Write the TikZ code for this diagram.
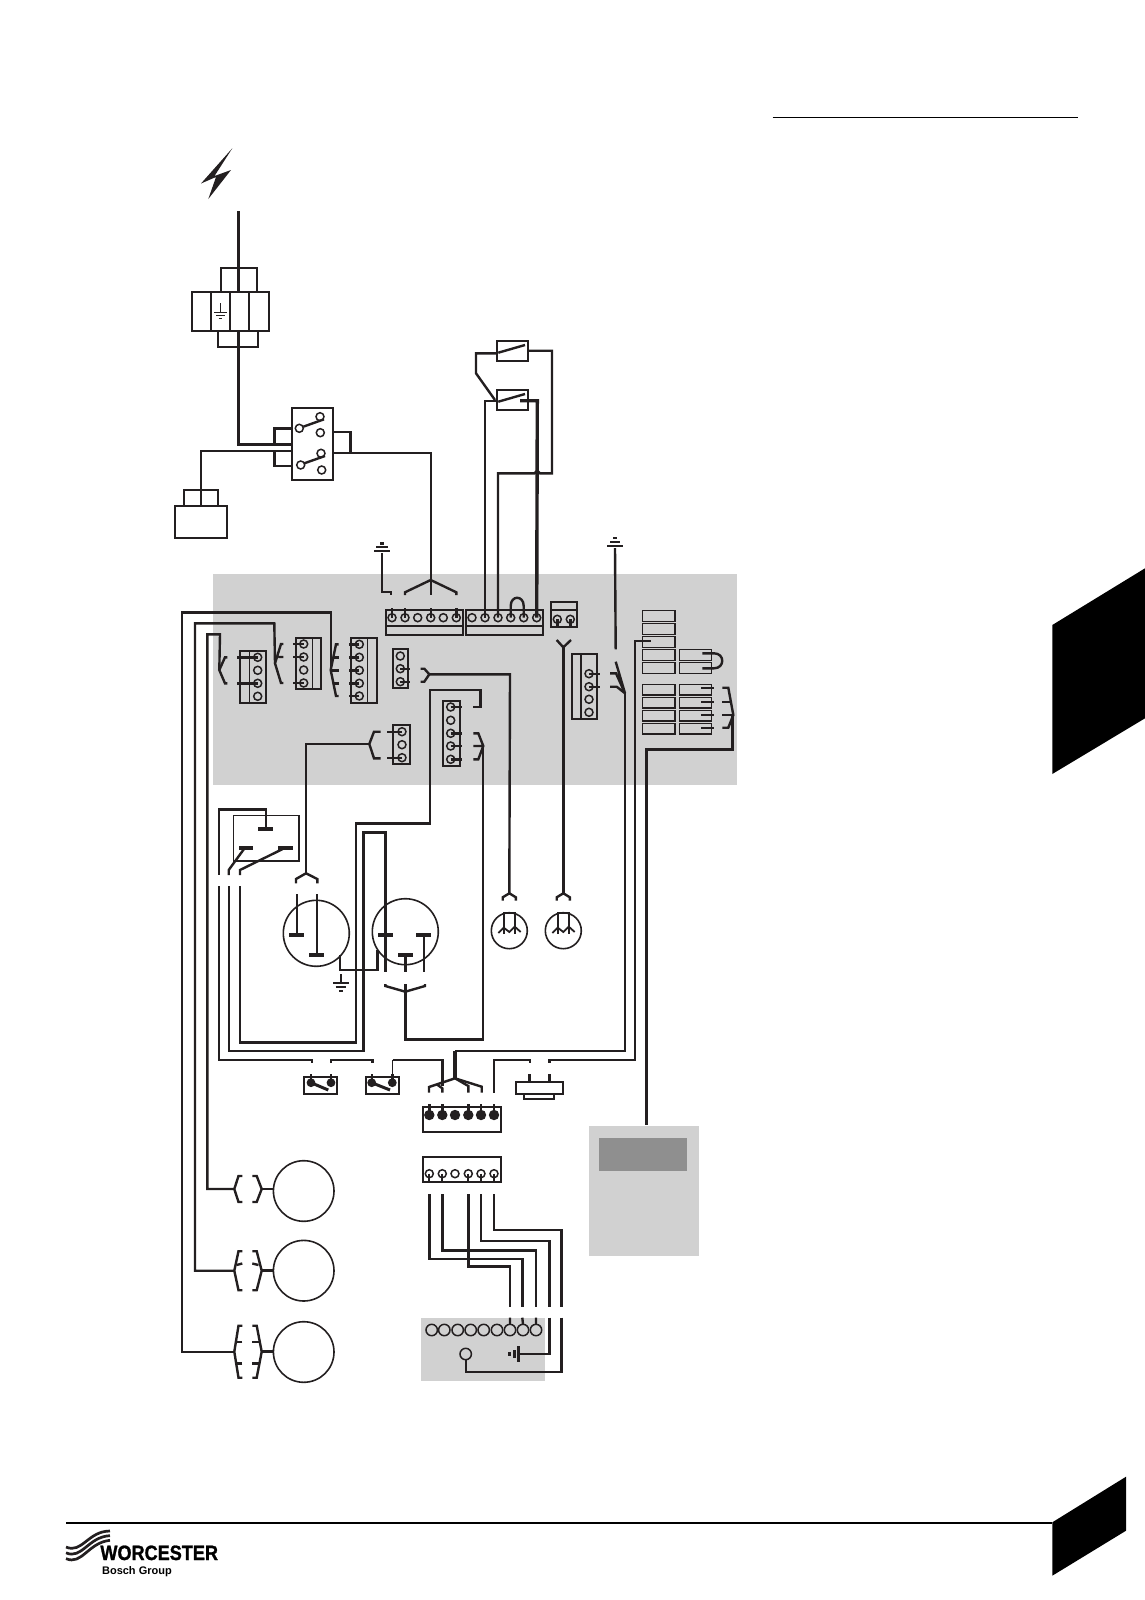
\documentclass[tikz,border=0pt]{standalone}
\usepackage{graphicx}
\usepackage{fontspec}
\setmainfont{Liberation Sans}
\newfontfamily\brandfont[FakeBold=1.3]{Liberation Sans Bold}
\definecolor{ink}{HTML}{231F20}
\definecolor{panel}{HTML}{D1D1D1}
\definecolor{paneldark}{HTML}{8F8F8F}
\newcommand{\boxat}[5]{\node[blockbox,minimum width={(#4-#2)*.5pt},minimum height={(#5-#3)*.5pt}] (#1) at ({(#2+#4)/2},{(#3+#5)/2}) {};}
\newcommand{\spadeat}[5]{\node[blockbox,line width=.65pt,minimum width={(#4-#2)*.5pt},minimum height={(#5-#3)*.5pt}] (#1) at ({(#2+#4)/2},{(#3+#5)/2}) {};}
\begin{document}
\begin{tikzpicture}[x=.5pt,y=-.5pt,
    blockbox/.style={draw=ink,line width=.9pt,inner sep=0pt,outer sep=0pt},
    wire/.style={draw=ink,line width=1.2pt},
    heavy/.style={draw=ink,line width=1.7pt},
    hair/.style={draw=ink,line width=.7pt},
    term/.style={circle,draw=ink,line width=.75pt,inner sep=0pt,outer sep=0pt,minimum size=4pt},
    solid term/.style={term,fill=ink,minimum size=4.4pt},
    dev/.style={circle,draw=ink,line width=.8pt,inner sep=0pt,outer sep=0pt},
    bar/.style={draw=ink,line width=2pt}]
\useasboundingbox (0,0) rectangle (1145,1600);

% panels and page marks
\fill[panel] (212.7,574) rectangle (736.7,785);
\fill[panel] (421,1318.3) rectangle (545,1380.7);
\fill[panel] (589,1126) rectangle (699,1256);
\fill[paneldark] (599,1138) rectangle (687,1171);
\fill (1052.3,625)--(1145,568.3)--(1145,718.3)--(1052.3,774)--cycle;
\fill (1052.3,1522.3)--(1126,1476.7)--(1126,1530.7)--(1052.3,1575.7)--cycle;
\draw[line width=.9pt,black] (772.5,117.5)--(1078,117.5);
\draw[line width=1pt,black] (66,1522.7)--(1052.3,1522.7);

% supply
\fill[ink] (232.3,148.3)--(201,183.5)--(216,177)--(208.3,199)--(231,170)--(214.5,176)--cycle;
\coordinate (mains) at (238.3,211);
\boxat{conU}{220.7}{268.3}{257.3}{292.3}
\foreach \n/\a/\b in {tbA/191.7/211,tbB/211/230,tbC/230/249.3,tbD/249.3/269}
{
    \boxat{\n}{\a}{292.3}{\b}{331}
}
\boxat{conL}{218.3}{331}{258.3}{347}
\draw[heavy] (mains)--(238.3,268.3);
\draw[wire] (238.3,268.3)--(238.3,292.3);
\draw[hair] (220.3,303.3)--(220.3,311.7);
\draw[hair] (214,312.7)--(227,312.7) (216,315.3)--(225,315.3) (218.7,318.3)--(222,318.3);

% double pole switch
\boxat{dps}{291.7}{408.3}{333.3}{480}
\foreach \n/\x/\y in {dpA/299.3/428.3,dpB/320/416.7,dpC/320.3/432.7,dpD/300.7/465,dpE/321/453.3,dpF/321.7/470}
{
    \node[term] (\n) at (\x,\y) {};
}
\draw[wire] (303.3,426.7)--(324,419.3);
\draw[wire] (304.3,463.3)--(325,456);
\draw[wire] (238.3,331)--(238.3,444.3)--(dps.west |- 0,444.3);
\draw[wire] (dps.west |- 0,428.3)--(274.3,428.3)--(274.3,444.3);
\draw[wire] (dps.west |- 0,451)--(200.7,451)--(200.7,506);
\draw[wire] (dps.west |- 0,466)--(274.3,466)--(274.3,451);
\draw[wire] (dps.east |- 0,431.7)--(350.3,431.7)--(350.3,452.7);
\boxat{plugT}{184.3}{490}{217.7}{506}
\boxat{plugB}{175}{506}{227.3}{538.3}

% thermostats
\boxat{thA}{496.7}{341}{527.7}{360.7}
\boxat{thB}{496.7}{390}{527.7}{410}
\draw[wire] (498.3,352.7)--(525,345);
\draw[wire] (498.3,401.7)--(525,394);
\draw[wire] (thA.west |- 0,353.3)--(476,353.3)--(476,373.3)--(495,400);

% control board terminals
\boxat{blkA}{385.7}{610}{463.3}{635}
\boxat{blkB}{466}{610}{543.3}{635}
\boxat{blkC}{551}{601.7}{577.3}{626.7}
\draw[hair] (385.7,626)--(463.3,626) (466,626)--(543.3,626) (551,610)--(577.3,610);
\foreach \i/\x in {1/392,2/405,3/417.7,4/430.7,5/443.3,6/456.3}
{
    \node[term] (tA\i) at (\x,617.7) {};
}
\foreach \i/\x in {1/472,2/485,3/498,4/510.7,5/523.7,6/536.7}
{
    \node[term] (tB\i) at (\x,617.7) {};
}
\foreach \i/\x in {1/557.3,2/570.3}
{
    \node[term] (tC\i) at (\x,619.3) {};
    \draw[wire] (tC\i.center)--(\x,627.7);
}
\foreach \i in {1,2,4,6}
{
    \draw[wire] (tA\i.center)--++(0,-10);
}
\draw[wire] (tB4.center)--(510.7,606) .. controls (510.7,595) and (523.7,595) .. (523.7,606)--(tB5.center);

% line feed and earth
\draw[wire] (tB2.center)--(485,400.7)--(thB.west |- 0,400.7);
\draw[heavy] (tB6.center)--(537.3,400.7)--(520,400.7);
\draw[wire] (tB3.center)--(498,473.3)--(534.5,473.3)--(537.3,470.5)--(540,473.3)--(552,473.3)--(552,350.7)--(thA.east |- 0,350.7);
\draw[wire] (dps.east |- 0,452.7)--(430.7,452.7)--(430.7,595);
\draw[wire] (405,595)--(405,592.3)--(430.7,580)--(456.3,592.3)--(456.3,595);
\draw[wire] (382,553)--(382,591.7)--(391,591.7)--(391,595);
\coordinate (earthA) at (382,553);
\draw[hair,line width=.9pt] (374,550.7)--(390,550.7);
\draw[bar,line width=1.1pt] (376,547.3)--(388,547.3);
\draw[bar,line width=1.2pt] (380,543.3)--(384,543.3);
\coordinate (earthB) at (615,548);
\draw[wire] (earthB)--(615.7,649.3);
\draw[bar,line width=1.1pt] (607,545.7)--(623,545.7) (610,541.7)--(620,541.7);
\draw[bar,line width=1.2pt] (613,537.7)--(617,537.7);

% left hand terminal blocks
\boxat{blkD}{240}{650.7}{265.7}{702.7}
\boxat{blkE}{296}{637.7}{321.3}{689.3}
\boxat{blkF}{351.3}{637.7}{376.7}{702.7}
\draw[hair] (249.3,650.7)--(249.3,702.7) (312.3,637.7)--(312.3,689.3) (367.7,637.7)--(367.7,702.7);
\foreach \i/\y in {1/657.3,2/670.3,3/683.3,4/696.3}
{
    \node[term] (tD\i) at (257.7,\y) {};
}
\foreach \i/\y in {1/644,2/657,3/670,4/683}
{
    \node[term] (tE\i) at (303.7,\y) {};
}
\foreach \i/\y in {1/644.3,2/657.3,3/670.3,4/683.3,5/696}
{
    \node[term] (tF\i) at (359.3,\y) {};
    \draw[wire] (tF\i.center)--(349.3,\y);
}
\draw[wire] (tD1.center)--(237.3,657.3) (tD3.center)--(237.3,683.3);
\draw[wire] (tE1.center)--(293.3,644) (tE2.center)--(293.3,657) (tE4.center)--(293.3,683);
\draw[wire] (227.3,657.3)--(225,657.3)--(219.3,670)--(225,683.3)--(227.3,683.3);
\draw[wire] (283.3,644)--(281,644)--(275,663.3)--(281,683)--(283.3,683) (283.3,657)--(278.3,657);
\draw[wire] (338.7,644.3)--(336,644.3)--(330.7,670)--(336,696)--(338.7,696);
\draw[wire] (338.7,657.3)--(333.3,657.3) (338.7,670.3)--(330.7,670.3) (338.7,683.3)--(333.3,683.3);

% middle terminal blocks
\boxat{blkG}{392.7}{649.3}{408}{688.3}
\boxat{blkH}{442.7}{700.7}{460}{766}
\boxat{blkI}{393.3}{725}{410}{764}
\foreach \i/\y in {1/656,2/668.7,3/681.7}
{
    \node[term] (tG\i) at (400.3,\y) {};
}
\draw[wire] (tG2.center)--(410,668.7) (tG3.center)--(410,681.7);
\foreach \i/\y in {1/707,2/720.3,3/733.3,4/746,5/759.3}
{
    \node[term] (tH\i) at (450.7,\y) {};
}
\foreach \i in {1,3,4,5}
{
    \draw[wire] (tH\i.center)--++(11,0);
}
\foreach \i/\y in {1/731.7,2/744.7,3/757.7}
{
    \node[term] (tI\i) at (402,\y) {};
}
\draw[wire] (tI1.center)--(387.3,731.7) (tI3.center)--(387.3,757.7);
\draw[wire] (420.7,668.7)--(424.3,668.7)--(429.3,674.3)--(424.3,681.7)--(420.7,681.7);
\draw[wire] (473.3,733.3)--(478.3,733.3)--(483.3,746)--(478.3,759.3)--(473.3,759.3) (473.3,746)--(483.3,746);
\draw[wire] (380.7,731.7)--(374,731.7)--(369.3,744)--(374,758.3)--(380.7,758.3);

% right hand block and spade terminals
\boxat{blkJ}{571.7}{654.3}{596.7}{719.3}
\draw[hair] (581,654.3)--(581,719.3);
\foreach \i/\y in {1/673.7,2/686.7,3/699.3,4/712.3}
{
    \node[term] (tJ\i) at (589,\y) {};
}
\draw[wire] (tJ1.center)--(600,673.7) (tJ2.center)--(600,686.7);
\draw[wire] (610,673.3)--(616,673.3)--(625,693.3) (610,686.7)--(616.7,686.7)--(625,693.3) (615.7,661.7)--(625,693.3);
\draw[wire] (556.7,640)--(563.3,647.3)--(571,640);
\foreach \n/\a/\b in {spA/610.7/621.7,spB/623.3/634.7,spC/636.3/647.3,spD/649.3/660.3,spE/662.3/673.3,spF/684.3/695,spG/697.3/708,spH/710.3/721,spI/723.3/734}
{
    \spadeat{\n}{642.7}{\a}{675}{\b}
}
\foreach \n/\a/\b in {sqA/649.3/660.3,sqB/662.3/673.3,sqC/684.3/695,sqD/697.3/708,sqE/710.3/721,sqF/723.3/734}
{
    \spadeat{\n}{679.3}{\a}{711.7}{\b}
}
\draw[wire] (702.3,653.3)--(714,653.3) .. controls (725,653.3) and (725,668.3) .. (714,668.3)--(702.3,668.3);
\foreach \y in {687.7,701.7,715,727.7}
{
    \draw[wire] (701,\y)--(714,\y);
}
\draw[wire] (722.3,687.7)--(728.3,687.7)--(733.3,715)--(728.3,727.7)--(722.3,727.7);
\draw[wire] (722.3,701.7)--(730.7,701.7) (722.3,715)--(733,715);
\draw[heavy] (732.7,715)--(732.7,749.3)--(646.7,749.3)--(646.7,1125);

% pressure switch
\coordinate (psA) at (266,829);
\draw[wire] (psA)--(266,809.3)--(218.7,809.3)--(218.7,875);
\draw[line width=.7pt,ink] (233.3,815.7) rectangle (299,861);
\draw[bar] (258.3,829)--(272.7,829) (239,848)--(253.3,848) (278.3,848)--(292.7,848);
\draw[wire] (244,849)--(228.7,870)--(228.7,875);
\draw[wire] (282.7,849)--(240,870)--(240,875);

% pump and fan
\node[dev,minimum size=33pt] (pump) at (316.3,933.3) {};
\node[dev,minimum size=33pt] (fan) at (405.3,931.7) {};
\draw[wire] (296.7,894.3)--(296.7,935) (317,894.3)--(317,955);
\draw[bar] (289,935)--(304,935) (309,955)--(324,955);
\draw[wire] (385.3,935)--(385.3,971.7) (405.3,955)--(405.3,971.7) (424,935)--(424,971.7);
\draw[bar] (378,935)--(393,935) (398,955)--(413,955) (416,935)--(431,935);
\draw[wire] (296,883.3)--(296,879)--(306,873.3)--(317.3,879)--(317.3,883.3);
\draw[wire] (385.3,984)--(385.3,986)--(405.3,991.7)--(425,986)--(425,984);
\draw[wire] (340,955)--(340,970)--(377.3,970)--(377.3,950);
\draw[wire,line width=.8pt] (340.7,974.3)--(340.7,982.7);
\draw[wire,line width=.9pt] (333.3,982.7)--(349,982.7) (335.7,987)--(346,987) (339,990.7)--(342.7,990.7);

% lamps
\foreach \n/\c in {lampA/509.3,lampB/563.3}
{
    \node[dev,minimum size=18pt] (\n) at (\c,930.7) {};
    \draw[wire] (\c-5.5,934)--(\c-5.5,913)--(\c+5.5,913)--(\c+5.5,934);
    \draw[hair,line width=.9pt] (\c-11,933)--(\c-5.5,927.7)--(\c,932)--(\c+5.5,926.7)--(\c+11.4,932);
    \draw[wire] (\c-6.6,900.7)--(\c-6.6,897.3)--(\c,893.3)--(\c+6.6,897.3)--(\c+6.6,900.7);
}

% long runs from the board
\draw[wire] (330.7,670)--(330.7,612.3)--(181.7,612.3)--(181.7,1351.7)--(234.3,1351.7);
\draw[wire] (275,663.3)--(274.3,623.3)--(195,623.3)--(195,1270.7)--(234.3,1270.7);
\draw[wire] (219.3,670)--(220,634.3)--(207.3,634.3)--(207.3,1189)--(234.3,1189);
\draw[wire] (429.3,674.3)--(510,674.3)--(509.3,893.3);
\draw[heavy] (563.3,647.3)--(563.3,893.3);
\draw[wire] (369.3,744)--(306,744)--(306,873.3);
\draw[wire] (473.3,707)--(480.3,707)--(480.3,690)--(430,690)--(430,823.3)--(355.7,823.3)--(355.7,1042.3)--(239.7,1042.3)--(239.7,886);
\draw[wire] (228.7,886)--(228.7,1050.7)--(363.3,1050.7)--(363.3,832.3)--(385.3,832.3)--(385.3,971.7);
\draw[wire] (483,746)--(483,1039.3)--(405.3,1039.3)--(405.3,984);
\draw[wire] (405.3,984)--(405.3,991.7);
\draw[wire] (625,693.3)--(625,1050.7)--(455,1050.7);
\draw[heavy] (455,1050.7)--(455,1078.3);
\draw[wire] (650.7,641)--(634.7,641)--(634.7,1060)--(549.3,1060)--(549.3,1063);

% bottom row
\draw[wire] (218.7,886)--(218.7,1060)--(311.7,1060)--(311.7,1063);
\draw[wire] (331,1063)--(331,1060)--(372.3,1060)--(372.3,1063);
\draw[hair] (392.7,1074)--(392.7,1060);
\draw[wire] (392.7,1060)--(442.3,1060)--(442.3,1086);
\draw[wire] (494,1092.7)--(494,1060)--(530,1060)--(530,1063);
\boxat{limA}{304.3}{1076.7}{337.3}{1094.3}
\boxat{limB}{365.7}{1076.7}{398.7}{1094.3}
\foreach \n/\x in {limPa/311,limPb/331,limPc/371.7,limPd/392.3}
{
    \node[solid term,minimum size=3.6pt] (\n) at (\x,1082.7) {};
    \draw[wire] (\n.center)--(\x,1074);
}
\draw[wire,line width=1.5pt] (limPa.center)--(328.3,1090);
\draw[wire,line width=1.5pt] (limPc.center)--(390,1090);
\draw[wire] (529.3,1074)--(529.3,1081.7) (549.3,1074)--(549.3,1081.7);
\boxat{senA}{515.7}{1081.7}{563.3}{1094.3}
\boxat{senB}{524.3}{1094.3}{554.3}{1099.3}

% fork and harness plugs
\draw[wire] (455,1078.3)--(429,1087)--(429,1092.7);
\draw[wire] (436.7,1084.3)--(442.3,1088.3)--(442.3,1092.7);
\draw[wire] (455,1078.3)--(468.3,1086)--(468.3,1092.7);
\draw[wire] (455,1078.3)--(481.7,1086.7)--(481.7,1092.7);
\boxat{plugA}{423}{1107.3}{500.7}{1131.7}
\boxat{plugC}{423}{1156.7}{500.7}{1181.7}
\foreach \i/\x in {1/429.3,2/442.3,3/455,4/468.3,5/481,6/494}
{
    \node[solid term] (pa\i) at (\x,1115) {};
    \node[term] (pc\i) at (\x,1173.7) {};
}
\foreach \i in {1,2,4,5,6}
{
    \draw[wire] (pa\i.center)--++(0,-10.7);
    \draw[wire,line width=.9pt] (pc\i.center)--++(0,9.6);
}

% timer and clock
\foreach \i/\x in {1/431.7,2/444.3,3/457.7,4/470.7,5/483.7,6/497,7/510,8/523,9/536}
{
    \node[term,minimum size=5.7pt] (ck\i) at (\x,1330) {};
}
\node[term,minimum size=5.7pt] (lamp) at (465.7,1354) {};
\draw[wire] (429.3,1194)--(429.3,1259)--(522.3,1259)--(522.3,1306.7);
\draw[wire] (442.3,1194)--(442.3,1250.3)--(536,1250.3)--(536,1306.7);
\draw[wire] (468.3,1194)--(468.3,1266.3)--(510,1266.3)--(510,1306.7);
\draw[wire] (481,1194)--(481,1241)--(549.3,1241)--(549.3,1306.7);
\draw[wire] (494,1194)--(494,1230)--(561.3,1230)--(561.3,1306.7);
\draw[wire] (ck7.north)--(510,1317.7) (ck8.north)--(522.3,1317.7) (ck9.north)--(536,1317.7);
\draw[wire] (549.3,1317.7)--(549.3,1354)--(518.3,1354);
\draw[wire] (561.3,1317.7)--(561.3,1371.7)--(465.7,1371.7)--(lamp.south);
\draw[wire] (518.3,1346)--(518.3,1361.7);
\draw[wire,line width=1.4pt] (514.3,1350)--(514.3,1358);
\draw[wire,line width=1.4pt] (509.3,1352)--(509.3,1356);

% motors
\foreach \n/\y/\h/\cy in {motA/1189/13/1191,motB/1270.7/19.5/1270.7,motC/1351.7/26/1352}
{
    \node[dev,minimum size=30.3pt] (\n) at (303.7,\cy) {};
    \draw[wire] (242.3,\y-\h)--(238.5,\y-\h)--(234.3,\y)--(238.5,\y+\h)--(242.3,\y+\h);
    \draw[wire] (252.3,\y-\h)--(256.7,\y-\h)--(261.7,\y)--(256.7,\y+\h)--(252.3,\y+\h);
    \draw[wire,line width=1.4pt] (261.7,\y)--(273.3,\y);
}
\draw[wire] (242.3,1263.5)--(236.5,1265) (252.3,1263.5)--(258.5,1265);
\draw[wire] (242.3,1341.7)--(236.5,1341.7) (252.3,1341.7)--(258.5,1341.7);
\draw[wire] (242.3,1363.3)--(236.5,1363.3) (252.3,1363.3)--(258.5,1363.3);

% logo
\foreach \d in {0,5.8,11.6}
{
    \draw[line width=1.35pt,ink] (66,1547+\d) .. controls (82,1554+\d) and (88,1531+\d) .. (110,1531+\d*.8);
}
\node[anchor=base west,inner sep=0pt,font=\brandfont\fontsize{10.4}{12}\selectfont] (brand) at (100,1560) {\scalebox{.87}[1]{WORCESTER}};
\node[anchor=base west,inner sep=0pt,font=\bfseries\fontsize{5.5}{7}\selectfont] (group) at (101.7,1574) {Bosch Group};
\end{tikzpicture}
\end{document}
